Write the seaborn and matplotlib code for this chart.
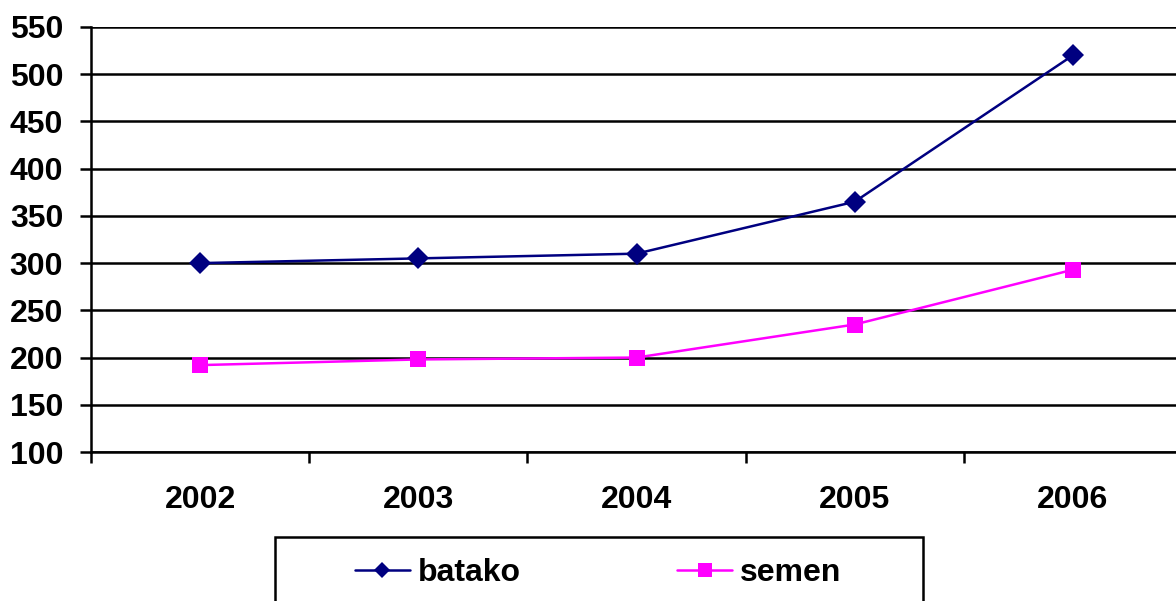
import pandas as pd
import matplotlib.pyplot as plt
from matplotlib.patches import Rectangle
import seaborn as sns

years = ['2002', '2003', '2004', '2005', '2006']
batako = [300, 305, 310, 365, 520]
semen = [192, 198, 200, 235, 293]
series_names = ['batako', 'semen']
colors = {'batako': '#000080', 'semen': '#FF00FF'}

sns.set_theme(style="white")
plt.rcParams['font.family'] = ['Liberation Sans', 'DejaVu Sans']
plt.rcParams['font.weight'] = 'bold'
plt.rcParams['text.color'] = 'black'

df = pd.DataFrame({
    'year': years * 2,
    'value': batako + semen,
    'series': ['batako'] * len(years) + ['semen'] * len(years),
})

W, H = 1176, 601
FS = 23
fig = plt.figure(figsize=(W / 100, H / 100), dpi=100)
ax = fig.add_axes([91 / W, (H - 452) / H, (1182 - 91) / W, (452 - 27) / H])

sns.lineplot(
    data=df, x='year', y='value', hue='series', style='series',
    hue_order=series_names, style_order=series_names,
    palette=colors, markers={'batako': 'D', 'semen': 's'}, dashes=False,
    markeredgewidth=0, linewidth=1.8, ax=ax, legend=False,
)
# marker sizes differ per shape
for line, ms in zip(ax.lines, [11, 11]):
    line.set_markersize(ms)

ax.set_xlim(-0.5, len(years) - 0.5)
ax.set_ylim(100, 550)
ax.set_yticks(range(100, 551, 50))
ax.set_xticks(range(len(years)))
ax.set_xticklabels(years)
ax.set_xticks([i - 0.5 for i in range(len(years) + 1)], minor=True)
ax.yaxis.grid(True, color='black', linewidth=1.8)
ax.xaxis.grid(False)
ax.set_axisbelow(True)
ax.set_xlabel('')
ax.set_ylabel('')

for side in ['top', 'right']:
    ax.spines[side].set_visible(False)
for side in ['left', 'bottom']:
    ax.spines[side].set_color('black')
    ax.spines[side].set_linewidth(1.8)

ax.tick_params(axis='y', which='major', direction='out', length=8, width=1.8,
               color='black', labelsize=FS, pad=12, left=True)
ax.tick_params(axis='x', which='major', length=0, labelsize=FS, pad=24)
ax.tick_params(axis='x', which='minor', direction='out', length=8, width=1.8,
               color='black', bottom=True)
for lbl in ax.get_xticklabels() + ax.get_yticklabels():
    lbl.set_fontweight('bold')
    lbl.set_color('black')

# legend box (runs off the bottom edge as in the original)
fig.add_artist(Rectangle((275 / W, -0.1), (923 - 275) / W, 1 - 537 / H + 0.1,
                         transform=fig.transFigure, facecolor='white',
                         edgecolor='black', linewidth=1.8, zorder=1))

handles = [
    plt.Line2D([], [], color=colors['batako'], marker='D', markersize=8,
               markeredgewidth=0, linewidth=1.8),
    plt.Line2D([], [], color=colors['semen'], marker='s', markersize=10,
               markeredgewidth=0, linewidth=1.8),
]
leg = fig.legend(
    handles, series_names, loc='center left', ncol=2,
    bbox_to_anchor=(355 / W, 1 - 573 / H),
    frameon=False, borderpad=0, borderaxespad=0,
    handlelength=1.72, handletextpad=0.25, columnspacing=4.9,
    prop={'size': FS, 'weight': 'bold'},
)
leg.set_zorder(2)
for t in leg.get_texts():
    t.set_color('black')

fig.savefig('out.png', dpi=100)
